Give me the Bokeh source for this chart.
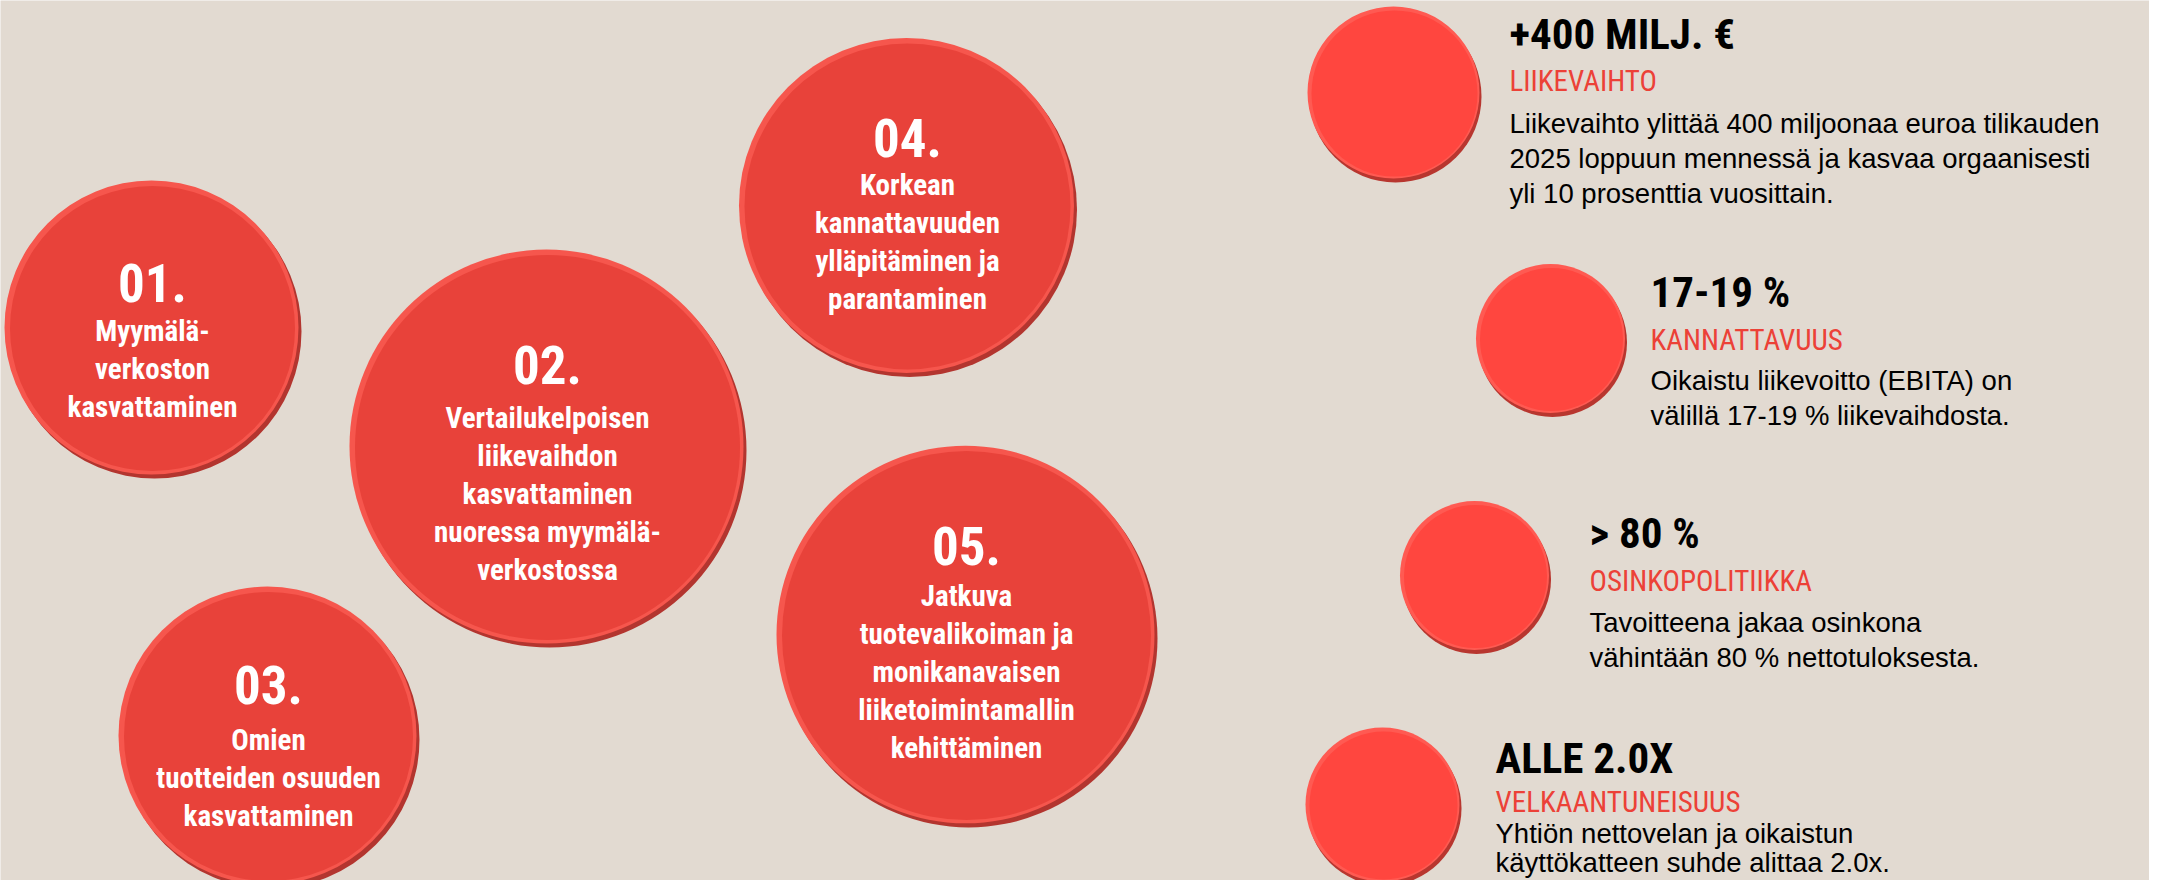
from bokeh.plotting import figure
from bokeh.models import Range1d
from bokeh.core.properties import value
from bokeh.embed import file_html
from bokeh.resources import INLINE

# ---------------- content ----------------
strategy_numbers = ["01.", "02.", "03.", "04.", "05."]
strategy_labels = [
    ["Myymälä-", "verkoston", "kasvattaminen"],
    ["Vertailukelpoisen", "liikevaihdon", "kasvattaminen", "nuoressa myymälä-", "verkostossa"],
    ["Omien", "tuotteiden osuuden", "kasvattaminen"],
    ["Korkean", "kannattavuuden", "ylläpitäminen ja", "parantaminen"],
    ["Jatkuva", "tuotevalikoiman ja", "monikanavaisen", "liiketoimintamallin", "kehittäminen"],
]
target_values = ["+400 MILJ. €", "17-19 %", "> 80 %", "ALLE 2.0X"]
target_titles = ["LIIKEVAIHTO", "KANNATTAVUUS", "OSINKOPOLITIIKKA", "VELKAANTUNEISUUS"]
target_texts = [
    ["Liikevaihto ylittää 400 miljoonaa euroa tilikauden",
     "2025 loppuun mennessä ja kasvaa orgaanisesti",
     "yli 10 prosenttia vuosittain."],
    ["Oikaistu liikevoitto (EBITA) on", "välillä 17-19 % liikevaihdosta."],
    ["Tavoitteena jakaa osinkona", "vähintään 80 % nettotuloksesta."],
    ["Yhtiön nettovelan ja oikaistun", "käyttökatteen suhde alittaa 2.0x."],
]

# ---------------- layout (pixel coordinates) ----------------
big_cx = [160, 555, 276, 915, 974]
big_cy = [336, 455, 744, 214, 643]
big_d = [294, 394, 298, 335, 378]
num_base = [290, 372, 692, 145, 553]
line_base0 = [338, 425, 747, 192, 603]
line_step = 38

small_cx = [1402, 1559, 1483, 1391]
small_cy = [101, 347, 584, 813]
small_d = [172, 149, 149, 154]
txt_x = [1517, 1658, 1597, 1503]
head_base = [41, 299, 540, 765]
title_base = [88, 347, 588, 809]
body_base0 = [131, 388, 630, 841]
body_step = [35, 35, 35, 29]

BG = "#E2DAD1"
COND = "'Roboto Condensed', 'DejaVu Sans Condensed', sans-serif"
BODY = "Liberation Sans"

W, H = 2149, 880
p = figure(width=W, height=H, x_range=Range1d(8, 8 + W), y_range=Range1d(8 + H, 8),
           output_backend="svg", toolbar_location=None, min_border=0)
p.axis.visible = False
p.grid.visible = False
p.outline_line_color = None
p.background_fill_color = BG
p.border_fill_color = BG

# ---- big circles with bevel ----
p.ellipse(x=[x + 2 for x in big_cx], y=[y + 3 for y in big_cy], width=big_d, height=big_d,
          fill_color="#B3352F", line_color=None)
p.ellipse(x=[x - 1 for x in big_cx], y=[y - 1 for y in big_cy], width=big_d, height=big_d,
          fill_color="#F6564D", line_color=None)
p.ellipse(x=big_cx, y=big_cy, width=[d - 9 for d in big_d], height=[d - 9 for d in big_d],
          fill_color="#E8423A", line_color=None)

p.text(x=big_cx, y=num_base, text=strategy_numbers, text_font=value(COND),
       text_font_size=value("53px"), text_font_style="bold", text_color="white",
       text_align="center", text_baseline="alphabetic")

lx, ly, lt = [], [], []
for i, lines in enumerate(strategy_labels):
    for j, t in enumerate(lines):
        lx.append(big_cx[i]); ly.append(line_base0[i] + j * line_step); lt.append(t)
p.text(x=lx, y=ly, text=lt, text_font=value(COND), text_font_size=value("29px"),
       text_font_style="bold", text_color="white", text_align="center",
       text_baseline="alphabetic")

# ---- small circles with bevel ----
p.ellipse(x=[x + 1 for x in small_cx], y=[y + 3 for y in small_cy], width=small_d, height=small_d,
          fill_color="#B8362F", line_color=None)
p.ellipse(x=[x - 1 for x in small_cx], y=[y - 1 for y in small_cy], width=small_d, height=small_d,
          fill_color="#FF5A52", line_color=None)
p.ellipse(x=small_cx, y=small_cy, width=[d - 6 for d in small_d], height=[d - 6 for d in small_d],
          fill_color="#FF463F", line_color=None)

p.text(x=txt_x, y=head_base, text=target_values, text_font=value(COND),
       text_font_size=value("43px"), text_font_style="bold", text_color="black",
       text_align="left", text_baseline="alphabetic")
p.text(x=txt_x, y=title_base, text=target_titles, text_font=value(COND),
       text_font_size=value("29px"), text_color="#EC4137",
       text_align="left", text_baseline="alphabetic")

bx, by, bt = [], [], []
for i, lines in enumerate(target_texts):
    for j, t in enumerate(lines):
        bx.append(txt_x[i]); by.append(body_base0[i] + j * body_step[i]); bt.append(t)
p.text(x=bx, y=by, text=bt, text_font=value(BODY), text_font_size=value("27.5px"),
       text_color="black", text_align="left", text_baseline="alphabetic")

open("out.html", "w").write(file_html(p, INLINE))
